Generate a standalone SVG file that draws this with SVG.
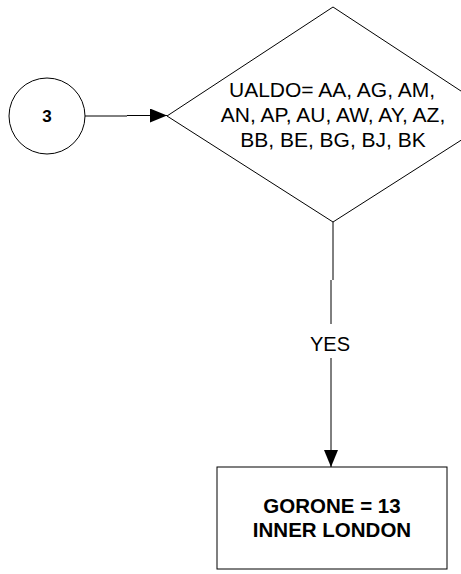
<svg xmlns="http://www.w3.org/2000/svg" width="461" height="574" viewBox="0 0 461 574">
<style>
.shape{fill:#fff;stroke:#000;stroke-width:1}
.t{font-family:"Liberation Sans",Arial,sans-serif;fill:#000;text-anchor:middle}
.b{font-weight:bold}
.conn{fill:none;stroke:#000;stroke-width:1}
</style>
<defs>
<marker id="arr" markerWidth="17" markerHeight="14" refX="17" refY="7" orient="auto" markerUnits="userSpaceOnUse">
<path d="M0,0 L17,7 L0,14 Z" fill="#000"/>
</marker>
</defs>
<rect width="461" height="574" fill="#fff"/>
<g id="connectors">
<path class="conn" d="M85,116 H127 M127,115.5 H167" marker-end="url(#arr)"/>
<path class="conn" d="M333,222 V280" stroke="#555"/>
<path class="conn" d="M331,280 V467" marker-end="url(#arr)"/>
<rect x="312" y="324" width="38" height="34" fill="#fff"/>
<text class="t" x="330" y="351" font-size="20">YES</text>
</g>
<g id="n3">
<circle class="shape" cx="47" cy="116" r="38"/>
<text class="t b" x="47" y="122" font-size="17">3</text>
</g>
<g id="decision">
<polygon class="shape" points="333,7 499,116 333,222 167,116"/>
<text class="t" x="332" y="97" font-size="21">UALDO= AA, AG, AM,</text>
<text class="t" x="333" y="122" font-size="21">AN, AP, AU, AW, AY, AZ,</text>
<text class="t" x="333" y="147" font-size="21">BB, BE, BG, BJ, BK</text>
</g>
<g id="result">
<rect class="shape" x="217" y="467" width="230" height="102"/>
<text class="t b" x="332" y="513" font-size="20.5">GORONE = 13</text>
<text class="t b" x="332" y="537" font-size="20.5">INNER LONDON</text>
</g>
</svg>
